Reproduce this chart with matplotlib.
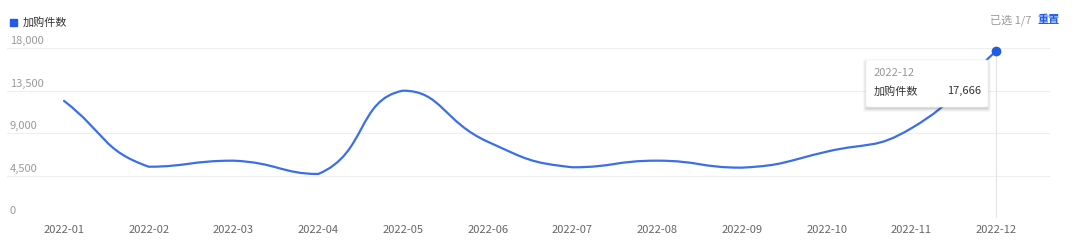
import matplotlib
matplotlib.use("Agg")
import matplotlib.pyplot as plt
import matplotlib.transforms as mtransforms
from matplotlib.path import Path
from matplotlib.patches import PathPatch, Rectangle, FancyBboxPatch
import numpy as np

plt.rcParams['font.family'] = ['Noto Sans CJK SC', 'DejaVu Sans']

# ── Data ─────────────────────────────────────────────────────────────────────
months = ['2022-01', '2022-02', '2022-03', '2022-04', '2022-05', '2022-06',
          '2022-07', '2022-08', '2022-09', '2022-10', '2022-11', '2022-12']
values = [12400, 5430, 6070, 4660, 13480, 8080,
          5370, 6070, 5330, 7020, 9500, 17666]
y_ticks = [0, 4500, 9000, 13500, 18000]
series_name = '加购件数'

LINE = '#3b6fe8'
BLUE = '#1f5be6'
W, H = 1080, 248


def fx(x):
    return x / W


def fy(y):
    return 1 - y / H


fig = plt.figure(figsize=(W / 100, H / 100), dpi=100)
ax = fig.add_axes([fx(7), fy(218), fx(1050) - fx(7), fy(48) - fy(218)])
ax.set_xlim(-0.673, 11.637)
ax.set_ylim(0, 18000)
for s in ax.spines.values():
    s.set_visible(False)

# grid lines + labels placed above each line
for v in y_ticks:
    ax.axhline(v, color='#eeeeee', lw=0.8, zorder=0)
lab_tr = mtransforms.offset_copy(
    mtransforms.blended_transform_factory(fig.transFigure, ax.transData),
    fig=fig, y=7, units='dots')
ax.set_yticks([])
for v in y_ticks:
    ax.text(fx(10), v, f'{v:,}', transform=lab_tr, ha='left', va='center',
            fontsize=8, color='#9a9a9a')

ax.set_xticks(range(len(months)), months)
ax.tick_params(axis='x', length=0, pad=5, labelsize=8, labelcolor='#666666')

# axis pointer for the highlighted month
ax.axvline(len(months) - 1, color='#e3e3e3', lw=0.8, zorder=1)

# ── smooth line (echarts-like bezier, smooth=0.5) ────────────────────────────
pts = ax.transData.transform(np.column_stack([np.arange(len(values)), values]))
smooth = 0.5
n = len(pts)
cp_next, cp_prev = [], []
for i in range(n):
    p = pts[i]
    prv = pts[max(i - 1, 0)]
    nxt = pts[min(i + 1, n - 1)]
    v = nxt - prv
    d0 = np.hypot(*(p - prv))
    d1 = np.hypot(*(nxt - p))
    r = d1 / (d0 + d1) if d0 + d1 > 0 else 0.5
    c0 = p + v * smooth * r
    c1 = p - v * smooth * (1 - r)
    c0 = np.minimum(c0, np.maximum(nxt, p))
    c0 = np.maximum(c0, np.minimum(nxt, p))
    c1 = np.minimum(c1, np.maximum(prv, p))
    c1 = np.maximum(c1, np.minimum(prv, p))
    cp_next.append(c0)
    cp_prev.append(c1)

verts = [pts[0]]
codes = [Path.MOVETO]
for i in range(n - 1):
    verts += [cp_next[i], cp_prev[i + 1], pts[i + 1]]
    codes += [Path.CURVE4] * 3
verts = ax.transData.inverted().transform(np.array(verts))
ax.add_patch(PathPatch(Path(verts, codes), fill=False, edgecolor=LINE,
                       lw=1.6, zorder=3, capstyle='round'))
ax.plot([len(values) - 1], [values[-1]], 'o', color=BLUE, ms=6,
        zorder=4, clip_on=False)

# ── legend / header ──────────────────────────────────────────────────────────
fig.patches.append(Rectangle((fx(10), fy(26)), fx(7), fy(19) - fy(26),
                             transform=fig.transFigure, color=BLUE))
fig.text(fx(23), fy(22), series_name, fontsize=8, color='#333333',
         ha='left', va='center')
fig.text(fx(1031), fy(20), '已选 1/7', fontsize=8, color='#999999',
         ha='right', va='center')
fig.text(fx(1037), fy(20), '重置', fontsize=8, color=BLUE,
         ha='left', va='center', fontweight='bold')

# ── tooltip ──────────────────────────────────────────────────────────────────
bx0, by0, bx1, by1 = 866, 60, 988, 107
for k, a in [(4, 0.03), (3, 0.04), (2, 0.05), (1, 0.06)]:
    fig.patches.append(FancyBboxPatch(
        (fx(bx0 - k + 1), fy(by1 + k + 1)), fx(bx1 - bx0 + 2 * k - 2),
        fy(by0) - fy(by1 + 2 * k - 2),
        boxstyle='round,pad=0,rounding_size=0.004', transform=fig.transFigure,
        facecolor='black', edgecolor='none', alpha=a, zorder=5))
fig.patches.append(FancyBboxPatch(
    (fx(bx0), fy(by1)), fx(bx1 - bx0), fy(by0) - fy(by1),
    boxstyle='round,pad=0,rounding_size=0.003', transform=fig.transFigure,
    facecolor='white', edgecolor='#f2f2f2', lw=0.5, zorder=6))
fig.text(fx(874), fy(73), months[-1], fontsize=8, color='#999999',
         ha='left', va='center', zorder=7)
fig.text(fx(874), fy(91), series_name, fontsize=8, color='#333333',
         ha='left', va='center', zorder=7)
fig.text(fx(981), fy(91), f'{values[-1]:,}', fontsize=8, color='#333333',
         ha='right', va='center', zorder=7)

fig.savefig('out.png', dpi=100)
